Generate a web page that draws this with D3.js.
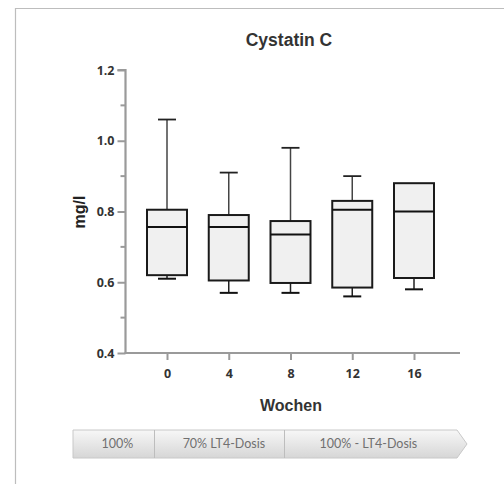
<!DOCTYPE html>
<html>
<head>
<meta charset="utf-8">
<script src="https://cdn.jsdelivr.net/npm/d3@7"></script>
<style>
  html, body { margin: 0; padding: 0; background: #fff; }
  svg { display: block; }
</style>
</head>
<body>
<svg id="chart" width="504" height="484"></svg>
<script>
// Box-plot statistics for serum cystatin C by study week
const weeks = ["0", "4", "8", "12", "16"];
const whiskerLow = [0.61, 0.57, 0.57, 0.56, 0.58];
const q1 = [0.62, 0.605, 0.598, 0.585, 0.612];
const median = [0.756, 0.756, 0.735, 0.805, 0.80];
const q3 = [0.805, 0.79, 0.773, 0.83, 0.88];
const whiskerHigh = [1.06, 0.91, 0.98, 0.90, 0.88];
const yTicks = [0.4, 0.6, 0.8, 1.0, 1.2];
const yMinorTicks = [0.5, 0.7, 0.9, 1.1];
const phases = ["100%", "70% LT4-Dosis", "100% - LT4-Dosis"];
const phaseBreaks = [0, 0.211, 0.549, 1];   // phase boundaries as fractions of the banner body
const phaseLabelShift = [4, 5, -2];         // small horizontal nudges for the phase captions

const svg = d3.select("#chart");

// outer frame (top and left edges)
svg.append("path")
  .attr("d", "M15.5,484 V8.5 H504")
  .attr("fill", "none").attr("stroke", "#bdbdbd").attr("stroke-width", 1.2);

const x = d3.scalePoint().domain(weeks).range([167, 414]);
const y = d3.scaleLinear().domain([0.4, 1.2]).range([353, 70]);
const bw = 40;
const cap = 18;

const axisColor = "#9a9a9a";

// title
svg.append("text").attr("x", 289).attr("y", 46).attr("text-anchor", "middle")
  .attr("font-family", "Liberation Sans, Arial, sans-serif").attr("font-weight", "bold")
  .attr("font-size", 17.5).attr("fill", "#333").text("Cystatin C");

// y axis
const yAxis = svg.append("g").attr("transform", "translate(125.5,0)")
  .call(d3.axisLeft(y).tickValues(yTicks).tickFormat(d3.format(".1f")).tickSize(8).tickPadding(3));
yAxis.select(".domain").attr("stroke", axisColor).attr("stroke-width", 2.2)
  .attr("d", "M-8," + y(1.2) + "H0V" + y(0.4));
yAxis.selectAll(".tick line").attr("stroke", axisColor).attr("stroke-width", 2);
yAxis.selectAll(".tick text").attr("font-family", "Open Sans, sans-serif").attr("font-weight", "bold")
  .attr("font-size", 12.5).attr("fill", "#333");
svg.append("g").attr("transform", "translate(125.5,0)")
  .selectAll("line").data(yMinorTicks).join("line")
  .attr("x1", -5).attr("x2", 0).attr("y1", d => y(d)).attr("y2", d => y(d))
  .attr("stroke", axisColor).attr("stroke-width", 2);

// x axis
const xAxis = svg.append("g").attr("transform", "translate(0,353)")
  .call(d3.axisBottom(x).tickSize(7).tickPadding(9));
xAxis.select(".domain").attr("stroke", axisColor).attr("stroke-width", 2.2)
  .attr("d", "M124.5,0H460");
xAxis.selectAll(".tick line").attr("stroke", axisColor).attr("stroke-width", 2);
xAxis.selectAll(".tick text").attr("font-family", "Open Sans, sans-serif").attr("font-weight", "bold")
  .attr("font-size", 12.5).attr("fill", "#333");

// axis titles
svg.append("text").attr("transform", "translate(85,212) rotate(-90)").attr("text-anchor", "middle")
  .attr("font-family", "Liberation Sans, Arial, sans-serif").attr("font-weight", "bold")
  .attr("font-size", 16).attr("fill", "#222").text("mg/l");
svg.append("text").attr("x", 291).attr("y", 411).attr("text-anchor", "middle")
  .attr("font-family", "Liberation Sans, Arial, sans-serif").attr("font-weight", "bold")
  .attr("font-size", 16).attr("fill", "#333").text("Wochen");

// boxes
const rows = weeks.map((w, i) => ({ w, lo: whiskerLow[i], q1: q1[i], med: median[i], q3: q3[i], hi: whiskerHigh[i] }));
const g = svg.append("g").selectAll("g").data(rows).join("g")
  .attr("transform", d => "translate(" + x(d.w) + ",0)");

g.append("line").attr("x1", 0).attr("x2", 0).attr("y1", d => y(d.hi)).attr("y2", d => y(d.q3))
  .attr("stroke", "#444").attr("stroke-width", 1.5);
g.append("line").attr("x1", 0).attr("x2", 0).attr("y1", d => y(d.q1)).attr("y2", d => y(d.lo))
  .attr("stroke", "#222").attr("stroke-width", 1.5);
g.filter(d => d.hi > d.q3).append("line").attr("x1", -cap / 2).attr("x2", cap / 2)
  .attr("y1", d => y(d.hi)).attr("y2", d => y(d.hi)).attr("stroke", "#222").attr("stroke-width", 1.8);
g.append("line").attr("x1", -cap / 2).attr("x2", cap / 2)
  .attr("y1", d => y(d.lo)).attr("y2", d => y(d.lo)).attr("stroke", "#111").attr("stroke-width", 2);
g.append("rect").attr("x", -bw / 2).attr("width", bw)
  .attr("y", d => y(d.q3)).attr("height", d => y(d.q1) - y(d.q3))
  .attr("fill", "#f0f0f0").attr("stroke", "#1a1a1a").attr("stroke-width", 2);
g.append("line").attr("x1", -bw / 2).attr("x2", bw / 2)
  .attr("y1", d => y(d.med)).attr("y2", d => y(d.med)).attr("stroke", "#111").attr("stroke-width", 2);

// treatment phase banner
const bx0 = 73, bx1 = 457, tip = 467, by0 = 430, by1 = 458;
const defs = svg.append("defs");
const grad = defs.append("linearGradient").attr("id", "bannerGrad")
  .attr("x1", 0).attr("x2", 0).attr("y1", 0).attr("y2", 1);
grad.append("stop").attr("offset", "0%").attr("stop-color", "#f7f7f7");
grad.append("stop").attr("offset", "100%").attr("stop-color", "#d6d6d6");

svg.append("path")
  .attr("d", `M${bx0},${by0}H${bx1}L${tip},${(by0 + by1) / 2}L${bx1},${by1}H${bx0}Z`)
  .attr("fill", "url(#bannerGrad)").attr("stroke", "#c8c8c8").attr("stroke-width", 1);

const bandX = d3.scaleLinear().domain([0, 1]).range([bx0, bx1]);
svg.append("g").selectAll("line").data(phaseBreaks.slice(1, -1)).join("line")
  .attr("x1", d => Math.round(bandX(d)) + 0.5).attr("x2", d => Math.round(bandX(d)) + 0.5)
  .attr("y1", by0).attr("y2", by1).attr("stroke", "#bdbdbd").attr("stroke-width", 1);
svg.append("g").selectAll("text").data(phases).join("text")
  .attr("x", (d, i) => (bandX(phaseBreaks[i]) + bandX(phaseBreaks[i + 1])) / 2 + phaseLabelShift[i])
  .attr("y", 448).attr("text-anchor", "middle")
  .attr("font-family", "Lato, Carlito, sans-serif").attr("font-size", 12.5).attr("fill", "#707070")
  .text(d => d);
</script>
</body>
</html>
